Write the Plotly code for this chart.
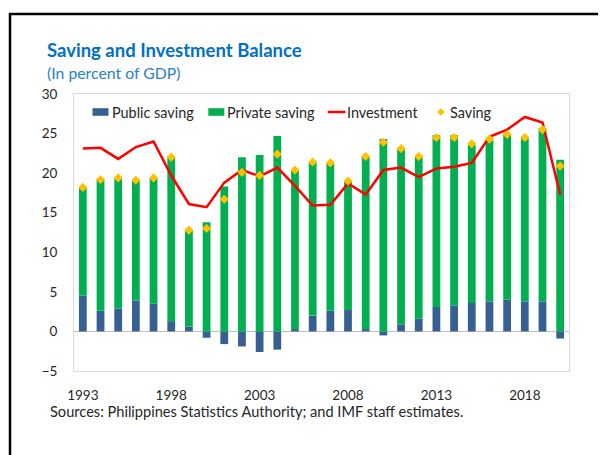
import plotly.graph_objects as go

years = list(range(1993, 2021))
public_saving = [4.5, 2.6, 2.9, 3.9, 3.5, 1.3, 0.6, -0.8, -1.6, -1.9, -2.6, -2.3, 0.3, 2.0,
                 2.6, 2.7, 0.3, -0.5, 0.9, 1.6, 3.1, 3.3, 3.6, 3.8, 4.0, 3.8, 3.8, -0.9]
private_saving = [13.7, 16.7, 16.6, 15.3, 16.0, 20.8, 12.2, 13.8, 18.3, 22.0, 22.3, 24.7, 20.1, 19.5,
                  18.7, 16.2, 21.8, 24.3, 22.2, 20.5, 21.7, 21.5, 20.0, 20.4, 20.9, 20.8, 21.9, 21.7]
investment = [23.1, 23.2, 21.8, 23.3, 24.0, 19.7, 16.1, 15.7, 18.8, 20.4, 19.6, 20.7, 18.4, 15.9,
              16.0, 18.7, 17.3, 20.4, 20.7, 19.5, 20.6, 20.8, 21.3, 24.6, 25.5, 27.1, 26.4, 17.3]
saving = [18.2, 19.2, 19.4, 19.1, 19.4, 22.0, 12.8, 13.0, 16.7, 20.1, 19.7, 22.4, 20.4, 21.4,
          21.3, 19.0, 22.1, 23.9, 23.1, 22.1, 24.5, 24.5, 23.7, 24.3, 24.9, 24.5, 25.5, 20.9]
x_ticks = [1993, 1998, 2003, 2008, 2013, 2018]
y_ticks = [-5, 0, 5, 10, 15, 20, 25, 30]

FONT = "Lato"
OFF = 8                      # page body margin
W, H = 606 - OFF, 455 - OFF
L, R, T, B = 74, 569, 94, 371   # plot area in window pixels

C_PUB, C_PRIV, C_INV, C_SAV = "#376092", "#00B050", "#FF0000", "#FFC000"


def px_x(p):
    return (p - L) / (R - L)


def px_y(p):
    return (B - p) / (B - T)


fig = go.Figure()
fig.add_trace(go.Bar(x=years, y=public_saving, name="Public saving",
                     marker=dict(color=C_PUB, line=dict(width=0)), width=0.44))
fig.add_trace(go.Bar(x=years, y=private_saving, name="Private saving",
                     marker=dict(color=C_PRIV, line=dict(width=0)), width=0.44))
fig.add_trace(go.Scatter(x=years, y=investment, name="Investment", mode="lines",
                         line=dict(color=C_INV, width=2.5)))
fig.add_trace(go.Scatter(x=years, y=saving, name="Saving", mode="markers",
                         marker=dict(symbol="diamond", color=C_SAV, size=7)))

# legend drawn by hand (Excel-like layout)
LEG_Y = 112
leg_font = dict(family=FONT, size=14.4, color="#262626")
shapes = [
    dict(type="line", xref="paper", yref="paper", x0=px_x(9), x1=px_x(640),
         y0=px_y(14), y1=px_y(14), line=dict(color="black", width=2.5)),
    dict(type="line", xref="paper", yref="paper", x0=px_x(10), x1=px_x(10),
         y0=px_y(13), y1=px_y(480), line=dict(color="black", width=2.5)),
    dict(type="rect", xref="paper", yref="paper", x0=px_x(92.5), x1=px_x(108.5),
         y0=px_y(LEG_Y - 3.8), y1=px_y(LEG_Y + 3.8), fillcolor=C_PUB, line=dict(width=0)),
    dict(type="rect", xref="paper", yref="paper", x0=px_x(208.3), x1=px_x(224.3),
         y0=px_y(LEG_Y - 3.8), y1=px_y(LEG_Y + 3.8), fillcolor=C_PRIV, line=dict(width=0)),
    dict(type="line", xref="paper", yref="paper", x0=px_x(327.7), x1=px_x(345.5),
         y0=px_y(LEG_Y), y1=px_y(LEG_Y), line=dict(color=C_INV, width=2.5)),
]
dx, dy = 3.8, 3.8
cx = 441
diamond = (f"M {px_x(cx)},{px_y(LEG_Y - dy)} L {px_x(cx + dx)},{px_y(LEG_Y)} "
           f"L {px_x(cx)},{px_y(LEG_Y + dy)} L {px_x(cx - dx)},{px_y(LEG_Y)} Z")
shapes.append(dict(type="path", xref="paper", yref="paper", path=diamond,
                   fillcolor=C_SAV, line=dict(width=0)))

legend_labels = [("Public saving", 110.5), ("Private saving", 225.8),
                 ("Investment", 345.7), ("Saving", 449.3)]
annotations = [
    dict(text=t, xref="paper", yref="paper", x=px_x(xp), y=px_y(LEG_Y), xanchor="left",
         yanchor="middle", showarrow=False, font=leg_font, xshift=-1)
    for t, xp in legend_labels
]
annotations += [
    dict(text="<b>Saving and Investment Balance</b>", xref="paper", yref="paper",
         x=px_x(46), y=px_y(50), xanchor="left", yanchor="middle", showarrow=False,
         xshift=-1, font=dict(family=FONT, size=18.5, color="#0070C0")),
    dict(text="(In percent of GDP)", xref="paper", yref="paper",
         x=px_x(46), y=px_y(72), xanchor="left", yanchor="middle", showarrow=False,
         xshift=-1, font=dict(family=FONT, size=15.8, color="#2A7FC6")),
    dict(text="Sources: Philippines Statistics Authority; and IMF staff estimates.",
         xref="paper", yref="paper", x=px_x(48.5), y=px_y(411.5), xanchor="left",
         yanchor="middle", showarrow=False, xshift=-1,
         font=dict(family=FONT, size=14.6, color="#262626")),
]

fig.update_layout(
    width=W, height=H,
    margin=dict(l=L - OFF, r=W - (R - OFF), t=T - OFF, b=H - (B - OFF), pad=0),
    barmode="relative",
    plot_bgcolor="white", paper_bgcolor="white",
    font=dict(family=FONT, size=13, color="#262626"),
    showlegend=False,
    xaxis=dict(range=[1992.5, 2020.5], tickvals=x_ticks, showgrid=False, zeroline=False,
               showline=True, linecolor="#D9D9D9", linewidth=1, mirror=True, ticks="",
               ticklabelstandoff=12, tickfont=dict(size=13.5)),
    yaxis=dict(range=[-5, 30], tickvals=y_ticks, showgrid=False, zeroline=True,
               zerolinecolor="#BFBFBF", zerolinewidth=1,
               showline=True, linecolor="#D9D9D9", linewidth=1, mirror=True, ticks="",
               ticklabelstandoff=13, tickfont=dict(size=13.5)),
    annotations=annotations,
    shapes=shapes,
)

fig.write_html("out.html")
